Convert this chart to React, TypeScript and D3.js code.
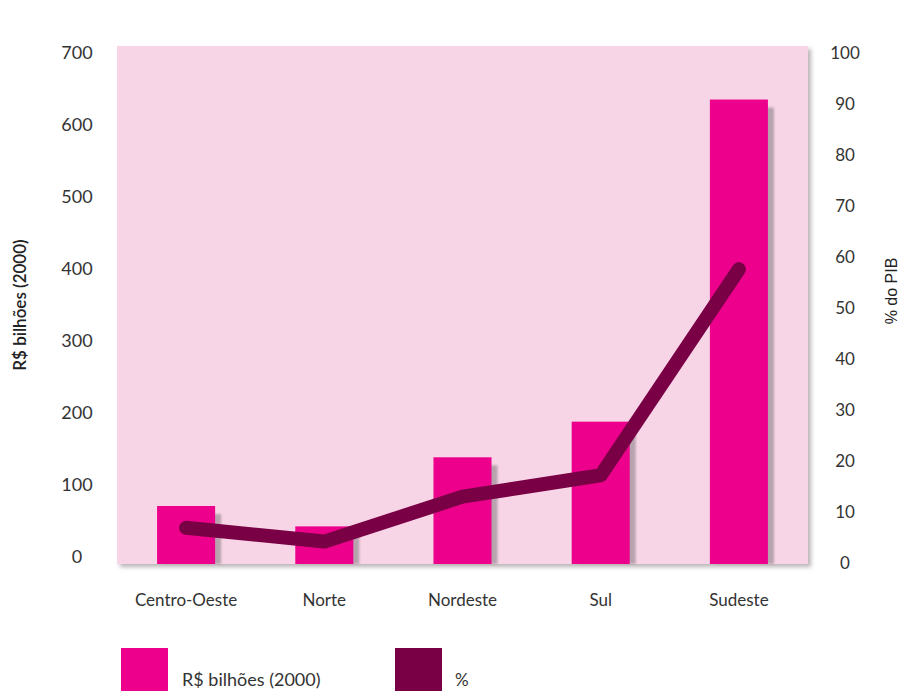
import React from "react";
import * as d3 from "d3";

const categories = ["Centro-Oeste", "Norte", "Nordeste", "Sul", "Sudeste"];
const valuesBRL = [77, 49, 144, 193, 636];
const valuesPct = [6.9, 4.2, 13.0, 17.2, 57.6];
const leftTicks = [0, 100, 200, 300, 400, 500, 600, 700];
const rightTicks = [0, 10, 20, 30, 40, 50, 60, 70, 80, 90, 100];

const W = 903;
const H = 691;
const plot = { left: 117, right: 808, top: 46, bottom: 564 };
const FONT = "Lato, 'Open Sans', sans-serif";

export default function App() {
  const x = d3
    .scaleBand<string>()
    .domain(categories)
    .range([plot.left, plot.right])
    .paddingInner(0.58)
    .paddingOuter(0.29);
  const yL = d3.scaleLinear().domain([0, 700]).range([562, 53]);
  const yR = d3.scaleLinear().domain([0, 100]).range([563, 53]);
  const yLabL = d3.scaleLinear().domain([0, 700]).range([557, 53]);

  const line = d3
    .line<number>()
    .x((_, i) => (x(categories[i]) as number) + x.bandwidth() / 2)
    .y((d) => yR(d));

  return (
    <svg
      width={W}
      height={H}
      style={{ position: "absolute", left: 0, top: 0, background: "#fff" }}
    >
      <defs>
        <filter id="blur2" x="-20%" y="-20%" width="140%" height="140%">
          <feGaussianBlur stdDeviation="2" />
        </filter>
        <filter id="blur1" x="-50%" y="-10%" width="200%" height="120%">
          <feGaussianBlur stdDeviation="1.2" />
        </filter>
      </defs>
      {/* plot background with shadow */}
      <rect
        x={plot.left + 3}
        y={plot.top + 3}
        width={plot.right - plot.left}
        height={plot.bottom - plot.top}
        fill="#b9b3b6"
        filter="url(#blur2)"
      />
      <rect
        x={plot.left}
        y={plot.top}
        width={plot.right - plot.left}
        height={plot.bottom - plot.top}
        fill="#f8d5e6"
      />
      {/* bar shadows */}
      {categories.map((c, i) => (
        <rect
          key={"s" + c}
          x={(x(c) as number) + 6}
          y={yL(valuesBRL[i]) + 8}
          width={x.bandwidth()}
          height={plot.bottom - yL(valuesBRL[i]) - 8}
          fill="#b7a3ae"
          filter="url(#blur1)"
        />
      ))}
      {/* bars */}
      {categories.map((c, i) => (
        <rect
          key={c}
          x={x(c) as number}
          y={yL(valuesBRL[i])}
          width={x.bandwidth()}
          height={plot.bottom - yL(valuesBRL[i])}
          fill="#ec008c"
        />
      ))}
      {/* line */}
      <path
        d={line(valuesPct) as string}
        fill="none"
        stroke="#7a0045"
        strokeWidth={14}
        strokeLinecap="round"
        strokeLinejoin="round"
      />
      {/* left ticks */}
      {leftTicks.map((t) => (
        <text
          key={"l" + t}
          x={77}
          y={yLabL(t)}
          dy="0.36em"
          textAnchor="middle"
          fontFamily={FONT}
          fontSize={18}
          fill="#333"
        >
          {t}
        </text>
      ))}
      {/* right ticks */}
      {rightTicks.map((t) => (
        <text
          key={"r" + t}
          x={845}
          y={yR(t)}
          dy="0.36em"
          textAnchor="middle"
          fontFamily={FONT}
          fontSize={17}
          fill="#333"
        >
          {t}
        </text>
      ))}
      {/* category labels */}
      {categories.map((c) => (
        <text
          key={"c" + c}
          x={(x(c) as number) + x.bandwidth() / 2}
          y={606}
          textAnchor="middle"
          fontFamily={FONT}
          fontSize={17}
          fill="#333"
        >
          {c}
        </text>
      ))}
      {/* axis titles */}
      <text
        transform="translate(26,305) rotate(-90)"
        textAnchor="middle"
        fontFamily={FONT}
        fontSize={17}
        fontWeight={600}
        fill="#222"
      >
        R$ bilhões (2000)
      </text>
      <text
        transform="translate(897,291) rotate(-90)"
        textAnchor="middle"
        fontFamily="'Liberation Sans', Arial, sans-serif"
        fontSize={16}
        fill="#222"
      >
        % do PIB
      </text>
      {/* legend */}
      <rect x={121} y={648} width={47} height={43} fill="#ec008c" />
      <text x={182} y={686} fontFamily={FONT} fontSize={18} fill="#333">
        R$ bilhões (2000)
      </text>
      <rect x={395} y={648} width={47} height={43} fill="#7a0045" />
      <text x={455} y={686} fontFamily={FONT} fontSize={17} fill="#333">
        %
      </text>
    </svg>
  );
}
